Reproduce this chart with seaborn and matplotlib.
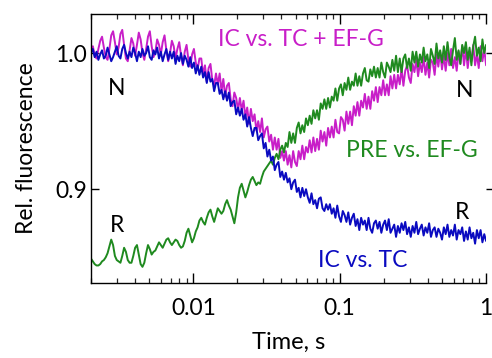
import numpy as np
import pandas as pd
import matplotlib
matplotlib.use("Agg")
import matplotlib.pyplot as plt
from matplotlib.ticker import LogLocator, NullFormatter
import seaborn as sns

# Stopped-flow traces, relative fluorescence x 1000, on a log-spaced time grid
ic_tc = [
    1000, 1003, 997, 1001, 995, 999, 1002, 996, 998, 1004, 999, 994,
    997, 1001, 1005, 998, 996, 1003, 1006, 1000, 996, 1001, 997, 1004,
    1000, 994, 1001, 997, 1003, 998, 1000, 1005, 997, 995, 1002, 999,
    1004, 996, 1001, 994, 999, 1003, 995, 1001, 996, 1001, 992, 998,
    994, 1000, 992, 998, 995, 990, 997, 989, 993, 985, 991, 984,
    990, 982, 986, 978, 986, 979, 981, 972, 978, 978, 970, 973,
    966, 972, 965, 971, 961, 964, 965, 955, 960, 954, 959, 951,
    955, 946, 953, 945, 939, 945, 945, 936, 939, 941, 930, 934,
    924, 929, 921, 924, 914, 918, 920, 909, 913, 907, 912, 905,
    908, 900, 905, 907, 898, 901, 894, 901, 895, 900, 894, 890,
    897, 889, 892, 886, 893, 894, 886, 884, 889, 885, 889, 882,
    886, 879, 888, 880, 876, 884, 881, 876, 883, 874, 879, 882,
    873, 878, 870, 879, 874, 877, 870, 879, 871, 868, 875, 877,
    871, 876, 868, 874, 877, 870, 878, 868, 871, 874, 865, 873,
    868, 875, 870, 876, 867, 872, 865, 873, 868, 876, 867, 871,
    874, 866, 872, 868, 875, 865, 870, 872, 865, 871, 868, 863,
    872, 867, 874, 865, 870, 866, 874, 863, 870, 867, 872, 862,
    869, 863, 872, 864, 868, 860, 870, 864, 870, 861, 867, 862,
]

pre_efg = [
    849, 847, 845, 844, 844, 845, 847, 848, 850, 853, 858, 863,
    859, 851, 848, 847, 846, 851, 857, 854, 848, 846, 846, 851,
    857, 859, 852, 845, 843, 846, 853, 859, 856, 852, 854, 855,
    858, 861, 859, 857, 860, 863, 864, 861, 859, 861, 863, 862,
    859, 857, 858, 862, 868, 871, 866, 861, 864, 869, 872, 877,
    879, 876, 874, 879, 883, 885, 880, 876, 881, 886, 884, 882,
    884, 889, 892, 888, 885, 880, 875, 883, 894, 901, 904, 899,
    894, 898, 903, 907, 909, 906, 903, 905, 904, 909, 913, 915,
    917, 919, 921, 918, 923, 926, 922, 929, 932, 927, 934, 931,
    942, 934, 941, 934, 945, 949, 941, 947, 942, 952, 947, 954,
    948, 958, 952, 958, 951, 963, 959, 966, 959, 967, 960, 968,
    965, 974, 965, 974, 977, 969, 978, 973, 982, 973, 979, 976,
    985, 976, 983, 976, 985, 989, 980, 979, 988, 983, 990, 982,
    989, 982, 993, 986, 982, 993, 990, 986, 995, 987, 998, 986,
    996, 986, 996, 999, 989, 996, 987, 1001, 993, 1001, 990, 999,
    993, 1004, 994, 999, 989, 1003, 998, 992, 1007, 996, 1002, 993,
    1005, 995, 1008, 997, 991, 1002, 1011, 995, 1002, 992, 1006, 1000,
    1008, 995, 1004, 991, 1005, 1012, 998, 1004, 994, 1010, 1000, 1006,
]

ic_tc_efg = [
    1001, 1005, 998, 996, 1003, 1009, 1012, 1004, 997, 995, 1003, 1013,
    1016, 1008, 999, 1004, 1014, 1017, 1006, 996, 994, 1002, 1011, 1007,
    998, 1006, 1015, 1010, 1000, 995, 1003, 1012, 1016, 1005, 997, 1001,
    1010, 1006, 999, 1008, 1013, 1002, 994, 1000, 1009, 1005, 996, 1003,
    1008, 998, 991, 1001, 1006, 995, 990, 999, 1003, 993, 988, 996,
    996, 984, 991, 979, 989, 992, 980, 976, 985, 977, 985, 972,
    981, 968, 976, 978, 966, 961, 971, 967, 958, 967, 958, 965,
    953, 960, 948, 959, 950, 955, 943, 950, 942, 952, 938, 944,
    946, 935, 940, 929, 938, 929, 937, 923, 928, 921, 928, 918,
    925, 916, 928, 920, 917, 928, 922, 932, 922, 931, 927, 936,
    927, 938, 928, 937, 929, 943, 935, 942, 932, 945, 938, 946,
    938, 951, 942, 941, 953, 951, 943, 957, 948, 957, 947, 961,
    954, 964, 954, 965, 960, 970, 959, 968, 959, 972, 965, 975,
    964, 975, 969, 980, 969, 977, 969, 983, 974, 984, 974, 984,
    977, 989, 976, 987, 991, 982, 978, 992, 986, 995, 983, 993,
    986, 997, 984, 993, 982, 995, 993, 984, 999, 990, 1001, 988,
    998, 987, 1000, 991, 1003, 989, 997, 987, 1001, 992, 1005, 991,
    1003, 989, 1001, 994, 1006, 991, 999, 989, 1005, 994, 1003, 991,
]

x_ticks = [0.01, 0.1, 1]
x_tick_labels = ["0.01", "0.1", "1"]
y_ticks = [0.9, 1.0]
y_tick_labels = ["0.9", "1.0"]

MAGENTA = "#C81EC8"
GREEN = "#1F8A1F"
BLUE = "#0A0AC0"
FS = 16.5


def trace_frame(values, name):
    t = np.geomspace(0.002, 1.0, len(values))
    return pd.DataFrame({"time": t, "fluor": np.asarray(values) / 1000.0, "trace": name})


sns.set_theme(style="ticks")
plt.rcParams["font.family"] = ["Lato", "DejaVu Sans"]

fig = plt.figure(figsize=(4.92, 3.58), dpi=100)
ax = fig.add_axes([0.185, 0.209, 0.803, 0.752])

for values, name, color in [
    (ic_tc_efg, "IC vs. TC + EF-G", MAGENTA),
    (pre_efg, "PRE vs. EF-G", GREEN),
    (ic_tc, "IC vs. TC", BLUE),
]:
    sns.lineplot(data=trace_frame(values, name), x="time", y="fluor",
                 color=color, lw=1.4, estimator=None, sort=False, ax=ax)

ax.set_xscale("log")
ax.set_xlim(0.002, 1.0)
ax.set_ylim(0.831, 1.0287)

ax.set_xticks(x_ticks, labels=x_tick_labels)
ax.xaxis.set_minor_locator(LogLocator(base=10, subs=np.arange(2, 10)))
ax.xaxis.set_minor_formatter(NullFormatter())
ax.set_yticks(y_ticks, labels=y_tick_labels)

for side in ["left", "bottom", "top"]:
    ax.spines[side].set_color("black")
    ax.spines[side].set_linewidth(1.0)
ax.spines["right"].set_visible(False)

ax.tick_params(axis="x", which="major", direction="in", length=7, width=1.0,
               top=True, bottom=True, labelsize=FS, pad=11, colors="black")
ax.tick_params(axis="x", which="minor", direction="in", length=3.5, width=0.9,
               top=True, bottom=True)
ax.tick_params(axis="y", which="major", direction="in", length=6, width=1.0,
               left=True, right=False, labelsize=FS, pad=3, colors="black")

right = ax.secondary_yaxis("right")
right.set_yticks(y_ticks)
right.set_yticklabels([])
right.spines["right"].set_visible(False)
right.tick_params(axis="y", direction="out", length=4, width=1.0, colors="black")

ax.set_xlabel("Time, s", fontsize=17, labelpad=9, color="black")
ax.set_ylabel("Rel. fluorescence", fontsize=FS, labelpad=13, color="black")

ax.text(0.0147, 1.0096, "IC vs. TC + EF-G", color=MAGENTA, fontsize=FS,
        ha="left", va="center")
ax.text(0.110, 0.9287, "PRE vs. EF-G", color=GREEN, fontsize=FS,
        ha="left", va="center")
ax.text(0.071, 0.8478, "IC vs. TC", color=BLUE, fontsize=FS,
        ha="left", va="center")
for tx, ty, s in [(0.0030, 0.9743, "N"), (0.714, 0.9728, "N"),
                  (0.0030, 0.8735, "R"), (0.69, 0.883, "R")]:
    ax.text(tx, ty, s, color="black", fontsize=FS, ha="center", va="center")

fig.savefig("out.png", dpi=100)
